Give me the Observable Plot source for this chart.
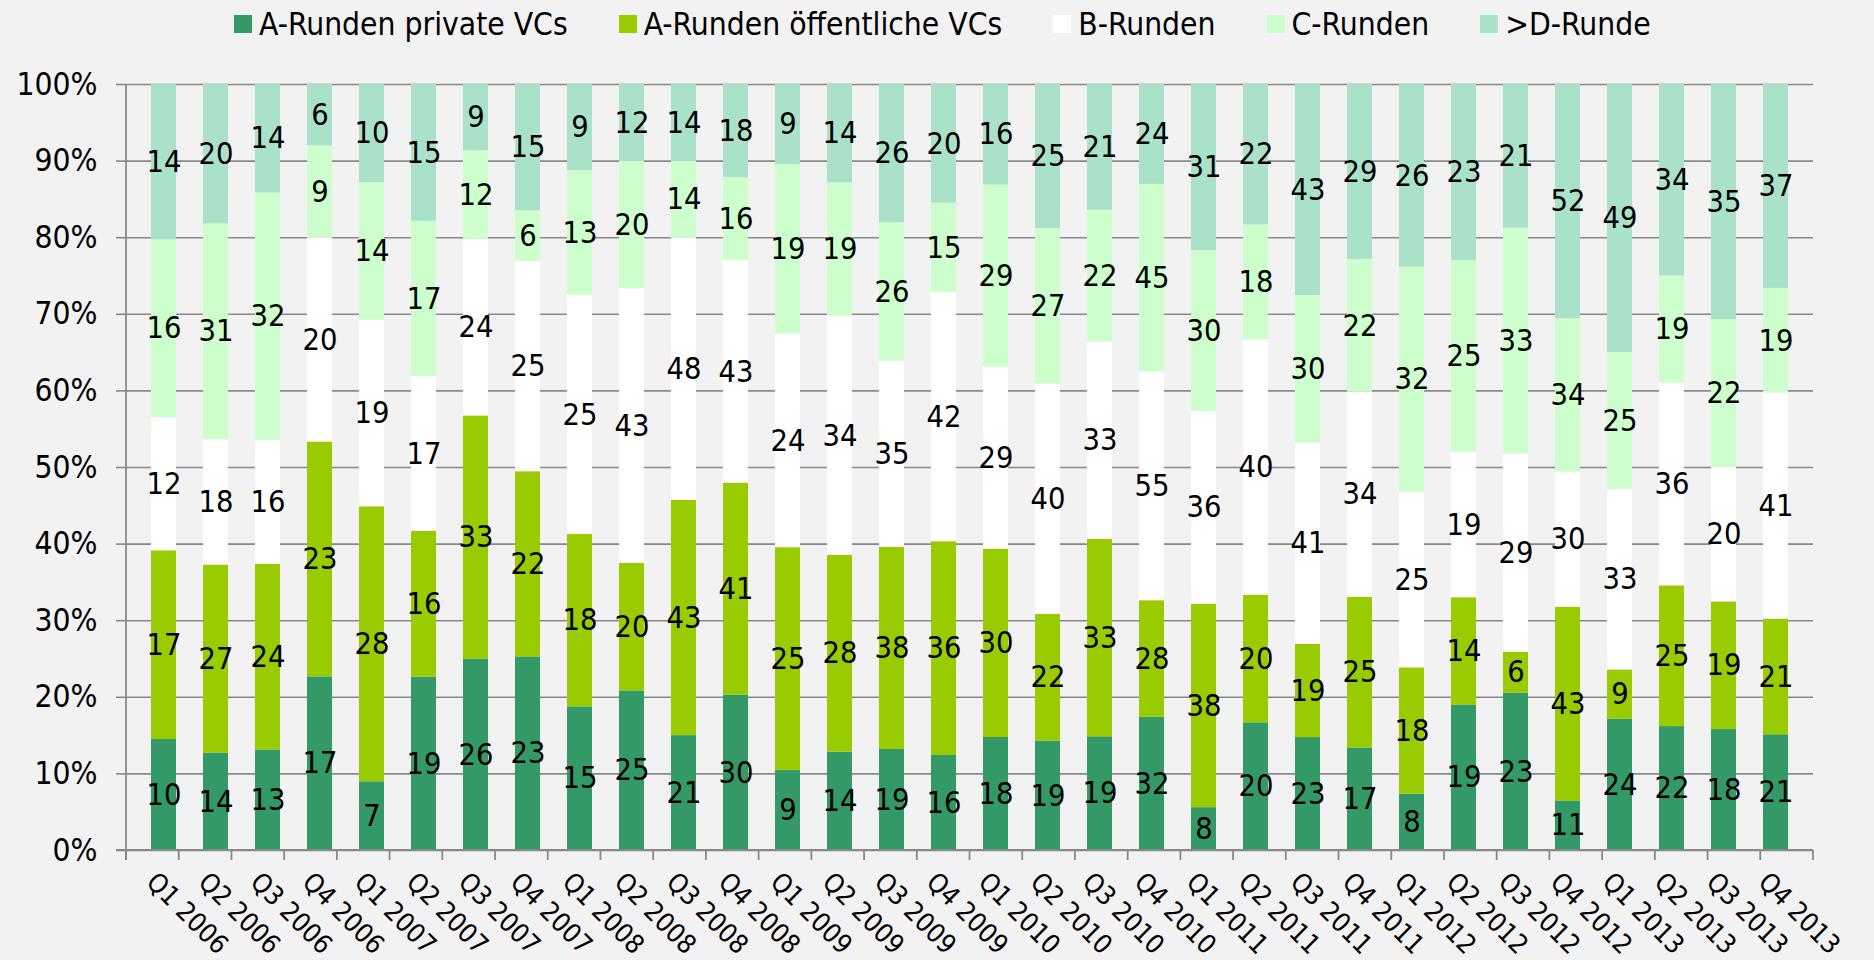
<!DOCTYPE html>
<html><head><meta charset="utf-8">
<script src="https://cdn.jsdelivr.net/npm/d3@7"></script>
<script src="https://cdn.jsdelivr.net/npm/@observablehq/plot@0.6"></script>
<style>
html,body{margin:0;padding:0;background:#f2f2f2;width:1874px;height:960px;overflow:hidden;font-family:"DejaVu Sans Condensed","DejaVu Sans",sans-serif;}
#chart{position:absolute;left:0;top:0;}
#legend{position:absolute;left:234px;top:8px;display:flex;gap:51px;font-size:31.5px;line-height:32px;color:#000;white-space:nowrap;}
.item{display:flex;align-items:center;gap:7px;}
.sw{width:18px;height:18px;flex:none;}
</style></head><body>
<div id="chart"></div><div id="legend"></div>
<script>
const quarters = ["Q1 2006","Q2 2006","Q3 2006","Q4 2006","Q1 2007","Q2 2007","Q3 2007","Q4 2007",
  "Q1 2008","Q2 2008","Q3 2008","Q4 2008","Q1 2009","Q2 2009","Q3 2009","Q4 2009",
  "Q1 2010","Q2 2010","Q3 2010","Q4 2010","Q1 2011","Q2 2011","Q3 2011","Q4 2011",
  "Q1 2012","Q2 2012","Q3 2012","Q4 2012","Q1 2013","Q2 2013","Q3 2013","Q4 2013"];
const series = ["A-Runden private VCs","A-Runden öffentliche VCs","B-Runden","C-Runden",">D-Runde"];
const colors = ["#339966","#99cc00","#ffffff","#ccffcc","#a9e2c8"];
const aPrivate = [10,14,13,17,7,19,26,23,15,25,21,30,9,14,19,16,18,19,19,32,8,20,23,17,8,19,23,11,24,22,18,21];
const aPublic  = [17,27,24,23,28,16,33,22,18,20,43,41,25,28,38,36,30,22,33,28,38,20,19,25,18,14,6,43,9,25,19,21];
const bRounds  = [12,18,16,20,19,17,24,25,25,43,48,43,24,34,35,42,29,40,33,55,36,40,41,34,25,19,29,30,33,36,20,41];
const cRounds  = [16,31,32,9,14,17,12,6,13,20,14,16,19,19,26,15,29,27,22,45,30,18,30,22,32,25,33,34,25,19,22,19];
const dRounds  = [14,20,14,6,10,15,9,15,9,12,14,18,9,14,26,20,16,25,21,24,31,22,43,29,26,23,21,52,49,34,35,37];
const yTicks = [0,0.1,0.2,0.3,0.4,0.5,0.6,0.7,0.8,0.9,1];

const seriesValues = [aPrivate, aPublic, bRounds, cRounds, dRounds];
const data = [];
quarters.forEach((q, i) => {
  series.forEach((s, k) => data.push({quarter: q, series: s, value: seriesValues[k][i]}));
});

const W = 1874, H = 960, mL = 126, mR = 61, mT = 84, mB = 110;
const FONT = '"DejaVu Sans Condensed","DejaVu Sans",sans-serif';
const GRID = "#898989";

const chart = Plot.plot({
  width: W, height: H,
  marginLeft: mL, marginRight: mR, marginTop: mT, marginBottom: mB,
  style: {background: "transparent", fontFamily: FONT, fontSize: "30px", color: "#000", overflow: "visible"},
  x: {domain: quarters, paddingInner: 0.52, paddingOuter: 0.26, axis: null, label: null},
  y: {domain: [0, 1], label: null, axis: null},
  color: {domain: series, range: colors},
  marks: [
    Plot.gridY(yTicks, {stroke: GRID, strokeOpacity: 1, strokeWidth: 1.6}),
    Plot.axisY(yTicks, {tickSize: 10, tickPadding: 19, stroke: GRID, strokeWidth: 1.6, strokeOpacity: 1,
      tickFormat: d => Math.round(d * 100) + "%", fontSize: 31.5, fill: "#000", label: null}),
    Plot.barY(data, {x: "quarter", y: "value", fill: "series", offset: "normalize"}),
    Plot.text(data, Plot.stackY({x: "quarter", y: "value", z: "series", offset: "normalize",
      text: d => String(d.value), fill: "#000", fontSize: 30.5})),
    Plot.text(quarters, {x: d => d, frameAnchor: "bottom", rotate: 45, textAnchor: "start",
      lineAnchor: "middle", dy: 27, dx: -13, fontSize: 26.5, fill: "#000"})
  ]
});
document.getElementById("chart").appendChild(chart);

// axis lines and category ticks
const svg = d3.select(chart);
const r0 = mL, r1 = W - mR, n = quarters.length, step = (r1 - r0) / n;
const g = svg.append("g").attr("stroke", GRID).attr("stroke-width", 1.8);
g.append("line").attr("x1", mL).attr("x2", mL).attr("y1", mT).attr("y2", H - mB + 10);
g.append("line").attr("x1", mL - 10).attr("x2", r1).attr("y1", H - mB).attr("y2", H - mB);
for (let i = 0; i <= n; i++) {
  const x = r0 + i * step;
  g.append("line").attr("x1", x).attr("x2", x).attr("y1", H - mB).attr("y2", H - mB + 10);
}

// legend
const leg = d3.select("#legend");
series.forEach((s, k) => {
  const it = leg.append("div").attr("class", "item");
  it.append("div").attr("class", "sw").style("background", colors[k]);
  it.append("span").text(s);
});
</script>
</body></html>
